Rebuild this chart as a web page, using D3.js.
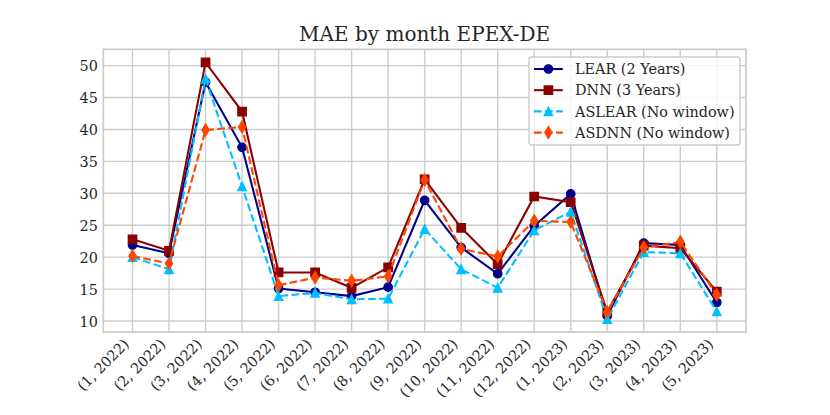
<!DOCTYPE html>
<html>
<head>
<meta charset="utf-8">
<script src="https://cdn.jsdelivr.net/npm/d3@7"></script>
<style>
  body { margin: 0; background: #fff; }
  svg text { font-family: "DejaVu Serif", serif; fill: #262626; }
</style>
</head>
<body>
<script>
// month labels as printed on the x axis
const months = [
    '(1, 2022)', '(2, 2022)', '(3, 2022)', '(4, 2022)', '(5, 2022)', '(6, 2022)',
    '(7, 2022)', '(8, 2022)', '(9, 2022)', '(10, 2022)', '(11, 2022)', '(12, 2022)',
    '(1, 2023)', '(2, 2023)', '(3, 2023)', '(4, 2023)', '(5, 2023)'
];

// MAE values
const lear = [21.9, 20.6, 47.4, 37.2, 15.1, 14.5, 13.9, 15.3, 28.9, 21.5, 17.4, 24.9, 29.9, 10.8, 22.2, 21.9, 12.9];
const dnn = [22.8, 21.0, 50.5, 42.8, 17.6, 17.6, 15.2, 18.4, 32.2, 24.6, 18.9, 29.5, 28.6, 11.4, 21.8, 21.4, 14.6];
const aslear = [20.0, 18.1, 47.9, 31.1, 13.9, 14.4, 13.4, 13.5, 24.4, 18.1, 15.2, 24.2, 27.1, 10.3, 20.8, 20.6, 11.5];
const asdnn = [20.2, 19.0, 39.9, 40.4, 15.6, 16.8, 16.3, 17.0, 32.1, 21.3, 20.1, 25.7, 25.5, 11.4, 21.5, 22.4, 14.1];

const yTicks = [10, 15, 20, 25, 30, 35, 40, 45, 50];

const series = [
    {name: 'LEAR (2 Years)', values: lear, color: '#00008b', marker: 'circle', dashed: false},
    {name: 'DNN (3 Years)', values: dnn, color: '#8b0000', marker: 'square', dashed: false},
    {name: 'ASLEAR (No window)', values: aslear, color: '#00bfff', marker: 'triangle', dashed: true},
    {name: 'ASDNN (No window)', values: asdnn, color: '#ff4500', marker: 'thin_diamond', dashed: true},
];

const W = 830, H = 415;
const margin = {top: 49.3, right: 84, bottom: 83, left: 103.3};
const width = W - margin.left - margin.right;
const height = H - margin.top - margin.bottom;
const fs = '14.4px';

const ms = 8.33; // marker size in px (6pt)
function markerPath(type) {
    const h = ms / 2;
    if (type === 'circle') {
        return d3.arc()({innerRadius: 0, outerRadius: h, startAngle: 0, endAngle: 2 * Math.PI});
    }
    if (type === 'square') {
        return `M${-h},${-h}H${h}V${h}H${-h}Z`;
    }
    if (type === 'triangle') {
        return `M0,${-h}L${h},${h}L${-h},${h}Z`;
    }
    const dy = ms * Math.SQRT1_2, dx = dy * 0.6;
    return `M0,${-dy}L${dx},0L0,${dy}L${-dx},0Z`;
}

const x = d3.scaleLinear().domain([-0.8, months.length - 1 + 0.8]).range([0, width]);
const y = d3.scaleLinear().domain([8.28, 52.55]).range([height, 0]);

const svg = d3.select('body')
    .append('svg')
    .attr('width', W)
    .attr('height', H);

const main = svg.append('g')
    .attr('transform', 'translate(' + margin.left + ',' + margin.top + ')');

// grid
main.append('g')
    .selectAll('line.vgrid')
    .data(months)
    .enter()
    .append('line')
    .attr('x1', (d, i) => x(i))
    .attr('x2', (d, i) => x(i))
    .attr('y1', 0)
    .attr('y2', height)
    .attr('stroke', '#cccccc')
    .attr('stroke-width', 1.39);

main.append('g')
    .selectAll('line.hgrid')
    .data(yTicks)
    .enter()
    .append('line')
    .attr('x1', 0)
    .attr('x2', width)
    .attr('y1', (d) => y(d))
    .attr('y2', (d) => y(d))
    .attr('stroke', '#cccccc')
    .attr('stroke-width', 1.39);

// axes (ticks hidden, labels only)
const yAxis = d3.axisLeft(y).tickValues(yTicks).tickSize(0).tickPadding(5.5);
const yg = main.append('g').call(yAxis);
yg.select('.domain').remove();
yg.selectAll('text')
    .attr('font-size', fs)
    .attr('dy', '0.36em');

const xg = main.append('g').attr('transform', 'translate(0,' + height + ')');
xg.selectAll('text')
    .data(months)
    .enter()
    .append('text')
    .attr('text-anchor', 'end')
    .attr('font-size', fs)
    .attr('transform', (d, i) => 'translate(' + (x(i) - 2.5) + ',13) rotate(-45)')
    .text((d) => d);

// frame
main.append('rect')
    .attr('width', width)
    .attr('height', height)
    .attr('fill', 'none')
    .attr('stroke', '#cccccc')
    .attr('stroke-width', 1.74);

// lines + markers
const line = d3.line()
    .x((d, i) => x(i))
    .y((d) => y(d));

series.forEach((s) => {
    const g = main.append('g');
    g.append('path')
        .datum(s.values)
        .attr('d', line)
        .attr('fill', 'none')
        .attr('stroke', s.color)
        .attr('stroke-width', 2.08)
        .attr('stroke-dasharray', s.dashed ? '7.7,3.33' : null);
    g.selectAll('path.marker')
        .data(s.values)
        .enter()
        .append('path')
        .attr('d', markerPath(s.marker))
        .attr('transform', (d, i) => 'translate(' + x(i) + ',' + y(d) + ')')
        .attr('fill', s.color)
        .attr('stroke', s.color)
        .attr('stroke-width', 1.39);
});

// title
svg.append('text')
    .attr('x', margin.left + width / 2)
    .attr('y', 41)
    .attr('text-anchor', 'middle')
    .attr('font-size', '20px')
    .text('MAE by month EPEX-DE');

// legend
const legend = svg.append('g').attr('transform', 'translate(529,57)');
legend.append('rect')
    .attr('width', 211)
    .attr('height', 88)
    .attr('rx', 3)
    .attr('fill', 'rgba(255,255,255,0.8)')
    .attr('stroke', '#cccccc')
    .attr('stroke-width', 1.39);

series.forEach((s, i) => {
    const cy = 12 + i * 21.2;
    legend.append('line')
        .attr('x1', 5)
        .attr('x2', 33.8)
        .attr('y1', cy)
        .attr('y2', cy)
        .attr('stroke', s.color)
        .attr('stroke-width', 2.08)
        .attr('stroke-dasharray', s.dashed ? '7.7,3.33' : null);
    legend.append('path')
        .attr('d', markerPath(s.marker))
        .attr('transform', 'translate(19.4,' + cy + ')')
        .attr('fill', s.color)
        .attr('stroke', s.color)
        .attr('stroke-width', 1.39);
    legend.append('text')
        .attr('x', 46)
        .attr('y', cy)
        .attr('dy', '0.36em')
        .attr('font-size', fs)
        .text(s.name);
});
</script>
</body>
</html>
